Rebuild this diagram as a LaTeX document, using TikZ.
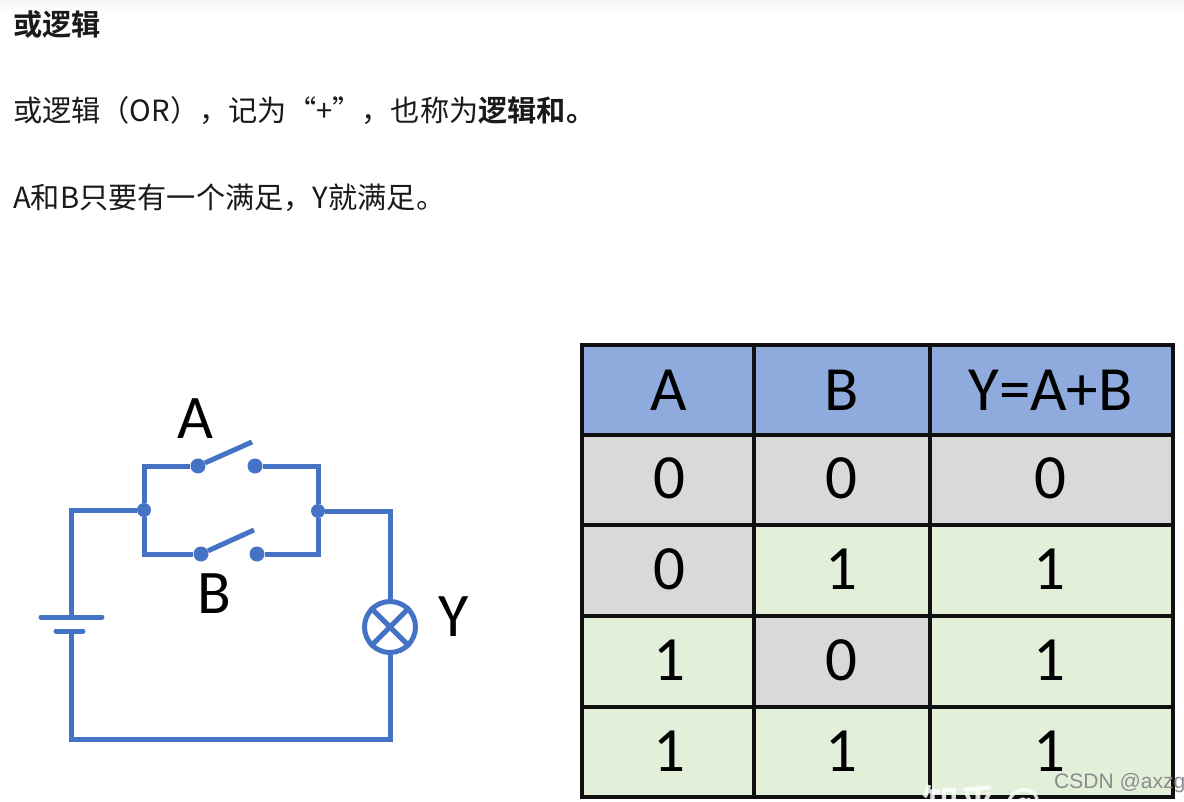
\documentclass[tikz,border=0pt]{standalone}
\usepackage{fontspec}
\setmainfont{Carlito}
\newfontfamily\cjk{Noto Sans CJK SC}
\newfontfamily\cjkb{Noto Sans CJK SC Bold}
\newfontfamily\wmfont{Liberation Sans}
\usetikzlibrary{calc}
\definecolor{wire}{HTML}{4472C4}
\definecolor{headfill}{HTML}{8FAADC}
\definecolor{grayfill}{HTML}{D9D9D9}
\definecolor{greenfill}{HTML}{E2F0D9}
\definecolor{ink}{HTML}{1A1A1A}
\definecolor{rule}{HTML}{101010}
\tikzset{
  x=1pt,y=-1pt,
  wireline/.style={draw=wire,line width=5pt,line join=miter},
  pin/.style={circle,fill=wire,inner sep=0pt,minimum size=15pt},
  junction/.style={circle,fill=wire,inner sep=0pt,minimum size=14pt},
  bodytext/.style={anchor=base west,inner sep=0pt,text=ink,font=\cjk\fontsize{29.2}{29.2}\selectfont},
  circlabel/.style={inner sep=0pt,text=black,font=\fontsize{62}{62}\selectfont},
  cell/.style={draw=rule,line width=3.4pt,inner sep=0pt},
  celltext/.style={inner sep=0pt,text=black,font=\fontsize{63}{63}\selectfont},
}
\newcommand{\tcell}[6]{\node[cell,fill=#5,minimum width=#3 pt,minimum height=#4 pt] (#6) at (#1,#2) {};}
\begin{document}
\begin{tikzpicture}
\useasboundingbox (0,0) rectangle (1184,802);
\fill[white] (0,0) rectangle (1184,802);
\shade[top color=black!4,bottom color=white] (0,0) rectangle (1184,12);
% text
\node[bodytext,font=\cjkb\fontsize{29.2}{29.2}\selectfont] (title) at (13,36) {或逻辑};
\node[bodytext] (line1) at (13,122) {或逻辑（OR），记为“+”，也称为{\cjkb 逻辑和。}};
\node[bodytext] (line2) at (13,209) {A和B只要有一个满足，Y就满足。};
% circuit
\coordinate (tl) at (71,510);
\coordinate (bl) at (71,739);
\coordinate (br) at (390,739);
\coordinate (tr) at (390,511);
\node[junction] (jl) at (144,510) {};
\node[junction] (jr) at (318,511) {};
\node[pin] (a1) at (198,466) {};
\node[pin] (a2) at (255,466) {};
\node[pin] (b1) at (201,554) {};
\node[pin] (b2) at (257,554) {};
\coordinate (al) at (252,442);
\coordinate (bll) at (254,530);
\coordinate (ul) at (144,466);
\coordinate (ur) at (318,466);
\coordinate (ll) at (144,554);
\coordinate (lr) at (318,554);
\coordinate (p1) at (71,617);
\coordinate (p2) at (71,631);
\node[draw=wire,line width=5pt,circle,minimum size=51pt,inner sep=0pt] (lamp) at (390,627) {};
\draw[wireline] (p1) -- (tl) -- (jl);
\draw[wireline] (jl) -- (ul) -- (a1);
\draw[wireline] (a2) -- (ur) -- (jr);
\draw[wireline] (jl) -- (ll) -- (b1);
\draw[wireline] (b2) -- (lr) -- (jr);
\draw[wireline] (jr) -- (tr) -- (lamp.north);
\draw[wireline] (lamp.south) -- (br) -- (bl) -- (p2);
\draw[wireline] (a1) -- (al);
\draw[wireline] (b1) -- (bll);
\draw[wireline,line cap=round] (41,617) -- (102,617);
\draw[wireline,line cap=round] (56,631) -- (83,631);
\draw[wire,line width=5pt] (lamp.north west) -- (lamp.south east);
\draw[wire,line width=5pt] (lamp.north east) -- (lamp.south west);
\node[circlabel] (la) at (195,419) {A};
\node[circlabel] (lb) at (214,594) {B};
\node[circlabel] (ly) at (454,617) {Y};
% table
\tcell{668}{390}{172}{90}{headfill}{h1}
\tcell{842}{390}{176}{90}{headfill}{h2}
\tcell{1051.5}{390}{243}{90}{headfill}{h3}
\tcell{668}{480}{172}{90}{grayfill}{c11}
\tcell{842}{480}{176}{90}{grayfill}{c12}
\tcell{1051.5}{480}{243}{90}{grayfill}{c13}
\tcell{668}{570.5}{172}{91}{grayfill}{c21}
\tcell{842}{570.5}{176}{91}{greenfill}{c22}
\tcell{1051.5}{570.5}{243}{91}{greenfill}{c23}
\tcell{668}{661.5}{172}{91}{greenfill}{c31}
\tcell{842}{661.5}{176}{91}{grayfill}{c32}
\tcell{1051.5}{661.5}{243}{91}{greenfill}{c33}
\tcell{668}{752}{172}{90}{greenfill}{c41}
\tcell{842}{752}{176}{90}{greenfill}{c42}
\tcell{1051.5}{752}{243}{90}{greenfill}{c43}
\foreach \n/\t/\dx/\dy in {h1/A/1/0,h2/B/0/0,h3/Y=A+B/-1/0,c11/0/1/-2,c12/0/-1/-2,c13/0/-1/-2,c21/0/1/-1,c22/1/-1/-1,c23/1/-2/-1,c31/1/1/-1,c32/0/-1/-1,c33/1/-2/-1,c41/1/1/-1,c42/1/-1/-1,c43/1/-2/-1}
  \node[celltext] at ($(\n)+(\dx,\dy)$) {\t};
% watermarks
\node[anchor=base west,inner sep=0pt,text=white,opacity=0.85,font=\cjkb\fontsize{37}{37}\selectfont] (wm1) at (922,816) {知乎 @};
\node[anchor=base west,inner sep=0pt,text=black!45,font=\wmfont\fontsize{21}{21}\selectfont] (wm2) at (1054,788) {CSDN @axzg};
\end{tikzpicture}
\end{document}
